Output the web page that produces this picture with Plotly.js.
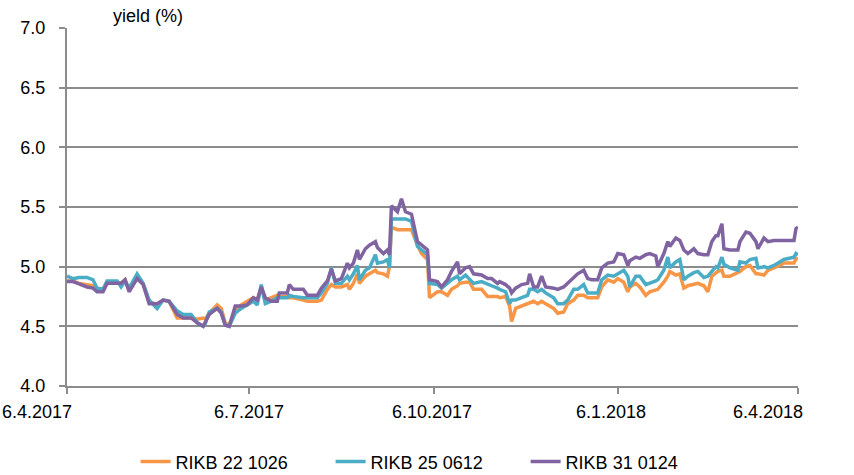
<!DOCTYPE html>
<html>
<head>
<meta charset="utf-8">
<script src="https://cdn.plot.ly/plotly-3.0.1.min.js"></script>
<style>html,body{margin:0;padding:0;background:#fff;}#chart{width:854px;height:475px;}</style>
</head>
<body>
<div id="chart"></div>
<script>
// Dates of observations
const dates = [
 '2017-04-06','2017-04-09','2017-04-12','2017-04-16','2017-04-19','2017-04-21','2017-04-24','2017-04-26',
 '2017-05-01','2017-05-03','2017-05-05','2017-05-07','2017-05-11','2017-05-14','2017-05-17','2017-05-21',
 '2017-05-24','2017-05-27','2017-05-31','2017-06-03','2017-06-07','2017-06-10','2017-06-13','2017-06-14',
 '2017-06-16','2017-06-20','2017-06-22','2017-06-24','2017-06-26','2017-06-29','2017-07-02','2017-07-05',
 '2017-07-08','2017-07-10','2017-07-12','2017-07-14','2017-07-17','2017-07-20','2017-07-21','2017-07-25',
 '2017-07-26','2017-07-28','2017-08-02','2017-08-04','2017-08-09','2017-08-11','2017-08-14','2017-08-16',
 '2017-08-18','2017-08-21','2017-08-24','2017-08-25','2017-08-27','2017-08-29','2017-08-30','2017-09-02',
 '2017-09-04','2017-09-07','2017-09-08','2017-09-11','2017-09-13','2017-09-14','2017-09-15','2017-09-18',
 '2017-09-20','2017-09-22','2017-09-25','2017-09-28','2017-09-30','2017-10-03','2017-10-04','2017-10-08',
 '2017-10-10','2017-10-13','2017-10-15','2017-10-18','2017-10-19','2017-10-22','2017-10-24','2017-10-26',
 '2017-10-30','2017-11-02','2017-11-04','2017-11-07','2017-11-08','2017-11-11','2017-11-13','2017-11-14',
 '2017-11-16','2017-11-19','2017-11-22','2017-11-23','2017-11-25','2017-11-27','2017-11-29','2017-12-01',
 '2017-12-05','2017-12-07','2017-12-10','2017-12-12','2017-12-15','2017-12-17','2017-12-20','2017-12-22',
 '2017-12-24','2017-12-27','2017-12-29','2018-01-01','2018-01-04','2018-01-06','2018-01-09','2018-01-11',
 '2018-01-12','2018-01-15','2018-01-17','2018-01-20','2018-01-22','2018-01-25','2018-01-26','2018-01-29',
 '2018-01-31','2018-02-01','2018-02-04','2018-02-06','2018-02-08','2018-02-10','2018-02-13','2018-02-15',
 '2018-02-18','2018-02-20','2018-02-22','2018-02-24','2018-02-25','2018-02-27','2018-02-28','2018-03-03',
 '2018-03-07','2018-03-08','2018-03-11','2018-03-13','2018-03-16','2018-03-17','2018-03-20','2018-03-22',
 '2018-03-25','2018-03-30','2018-04-04','2018-04-05','2018-04-06'
];

const rikb221026 = [
 4.88,4.88,4.86,4.85,4.84,4.82,4.81,4.87,
 4.87,4.86,4.89,4.81,4.92,4.86,4.71,4.68,
 4.72,4.71,4.57,4.57,4.57,4.56,4.57,4.56,
 4.61,4.68,4.65,4.53,4.51,4.64,4.68,4.71,
 4.74,4.72,4.82,4.72,4.74,4.76,4.75,4.75,
 4.74,4.74,4.72,4.71,4.71,4.72,4.81,4.85,
 4.83,4.83,4.85,4.81,4.86,4.94,4.86,4.92,
 4.94,4.97,4.95,4.94,4.92,5.00,5.33,5.31,
 5.31,5.31,5.31,5.18,5.11,5.06,4.74,4.79,
 4.79,4.76,4.81,4.84,4.86,4.87,4.87,4.81,
 4.81,4.75,4.75,4.75,4.74,4.75,4.67,4.54,
 4.65,4.67,4.69,4.70,4.71,4.69,4.71,4.69,
 4.65,4.61,4.62,4.69,4.72,4.76,4.76,4.74,
 4.74,4.74,4.83,4.89,4.87,4.90,4.87,4.79,
 4.83,4.86,4.83,4.76,4.79,4.80,4.81,4.87,
 4.92,4.96,4.93,4.94,4.82,4.84,4.85,4.86,
 4.84,4.79,4.92,4.95,4.96,4.97,4.92,4.92,
 4.95,4.96,5.00,5.01,4.94,4.94,4.93,4.97,
 4.99,5.03,5.03,5.07,5.06
];

const rikb250612 = [
 4.92,4.90,4.91,4.91,4.89,4.82,4.81,4.88,
 4.88,4.83,4.88,4.82,4.94,4.86,4.72,4.65,
 4.72,4.71,4.63,4.60,4.60,4.53,4.50,4.52,
 4.62,4.65,4.62,4.51,4.50,4.61,4.65,4.68,
 4.71,4.68,4.85,4.69,4.71,4.74,4.74,4.74,
 4.76,4.75,4.74,4.74,4.74,4.78,4.86,4.99,
 4.86,4.86,4.92,4.89,4.94,5.01,4.89,4.97,
 4.99,5.10,5.03,5.04,5.06,4.99,5.40,5.40,
 5.40,5.40,5.38,5.17,5.14,5.10,4.86,4.85,
 4.82,4.86,4.89,4.92,4.89,4.93,4.89,4.86,
 4.875,4.85,4.84,4.82,4.81,4.79,4.69,4.72,
 4.72,4.74,4.76,4.81,4.81,4.79,4.81,4.78,
 4.74,4.69,4.69,4.72,4.81,4.81,4.85,4.78,
 4.78,4.78,4.89,4.93,4.92,4.94,4.97,4.92,
 4.83,4.92,4.92,4.85,4.86,4.88,4.89,4.97,
 5.08,4.99,5.04,5.06,4.89,4.92,4.95,4.96,
 4.91,4.92,4.96,5.00,4.99,5.08,5.02,4.99,
 4.97,5.04,5.03,5.06,5.07,4.99,5.00,4.99,
 5.01,5.06,5.08,5.11,5.10
];

const rikb310124 = [
 4.875,4.875,4.855,4.83,4.82,4.79,4.79,4.86,
 4.86,4.86,4.89,4.79,4.90,4.85,4.69,4.69,
 4.72,4.71,4.60,4.57,4.57,4.53,4.50,4.53,
 4.60,4.65,4.61,4.51,4.50,4.67,4.67,4.68,
 4.74,4.72,4.83,4.74,4.71,4.71,4.78,4.78,
 4.85,4.81,4.81,4.76,4.76,4.82,4.88,4.98,
 4.88,4.90,5.03,4.99,5.03,5.14,5.06,5.15,
 5.18,5.21,5.16,5.11,5.14,5.10,5.51,5.46,
 5.57,5.46,5.44,5.21,5.18,5.14,4.89,4.875,
 4.83,4.89,4.96,5.04,4.94,4.99,5.00,4.94,
 4.93,4.90,4.90,4.86,4.875,4.85,4.82,4.78,
 4.82,4.85,4.86,4.94,4.83,4.83,4.92,4.83,
 4.82,4.81,4.83,4.86,4.91,4.94,4.97,4.90,
 4.89,4.89,4.99,5.03,5.04,5.11,5.10,5.01,
 5.05,5.08,5.07,5.10,5.11,5.09,5.00,5.11,
 5.21,5.17,5.24,5.22,5.14,5.11,5.15,5.11,
 5.10,5.10,5.21,5.26,5.26,5.36,5.15,5.14,
 5.14,5.21,5.29,5.28,5.21,5.15,5.24,5.21,
 5.22,5.22,5.22,5.32,5.33
];

const seriesNames = ['RIKB 22 1026','RIKB 25 0612','RIKB 31 0124'];
const seriesColors = ['#F79646','#4BACC6','#8064A2'];
const tickDates = ['2017-04-06','2017-07-06','2017-10-06','2018-01-06','2018-04-06'];
const tickLabels = ['6.4.2017','6.7.2017','6.10.2017','6.1.2018','6.4.2018'];
const labelShift = [-30,0,-2,-7,-30];

const seriesValues = [rikb221026, rikb250612, rikb310124];
const traces = seriesValues.map((v,i)=>({
  x: dates, y: v, type:'scatter', mode:'lines', name: seriesNames[i],
  line:{color:seriesColors[i], width:3.5}
}));

const fontFam = 'Liberation Sans, Arial, sans-serif';
const fsize = 18;
const grey = '#8C8C8C';

const annotations = tickDates.map((d,i)=>({
  x:d, xref:'x', y:0, yref:'paper', yanchor:'top', xanchor:'center',
  yshift:-14, xshift:labelShift[i], text:tickLabels[i], showarrow:false,
  font:{family:fontFam,size:fsize,color:'#000'}
}));
annotations.push({
  x:0.06, xref:'paper', y:1, yref:'paper', xanchor:'left', yanchor:'bottom', yshift:0,
  text:'yield (%)', showarrow:false, font:{family:fontFam,size:fsize,color:'#000'}
});

const layout = {
  width:854, height:475,
  margin:{l:67, r:56, t:28, b:89, autoexpand:false},
  paper_bgcolor:'#fff', plot_bgcolor:'#fff',
  showlegend:true,
  legend:{orientation:'h', x:0.494, xanchor:'center', y:-0.16, yanchor:'top',
    font:{family:fontFam,size:fsize,color:'#000'}, entrywidth:150, entrywidthmode:'pixels',
    traceorder:'normal'},
  xaxis:{type:'date', range:['2017-04-06','2018-04-06'], tickvals:tickDates, ticktext:tickLabels,
    showticklabels:false, ticks:'outside', ticklen:6, tickwidth:2, tickcolor:grey,
    showline:true, linecolor:grey, linewidth:2, showgrid:false, zeroline:false, fixedrange:true},
  yaxis:{range:[4,7], dtick:0.5, tick0:4, tickformat:'.1f', ticks:'outside', ticklen:6, tickwidth:2,
    tickcolor:grey, showline:true, linecolor:grey, linewidth:2, showgrid:true, gridcolor:grey,
    gridwidth:2, zeroline:false, ticklabelstandoff:10,
    tickfont:{family:fontFam,size:fsize,color:'#000'}},
  annotations: annotations,
  font:{family:fontFam,size:fsize,color:'#000'}
};

Plotly.newPlot('chart', traces, layout, {displayModeBar:false, staticPlot:true});
</script>
</body>
</html>
